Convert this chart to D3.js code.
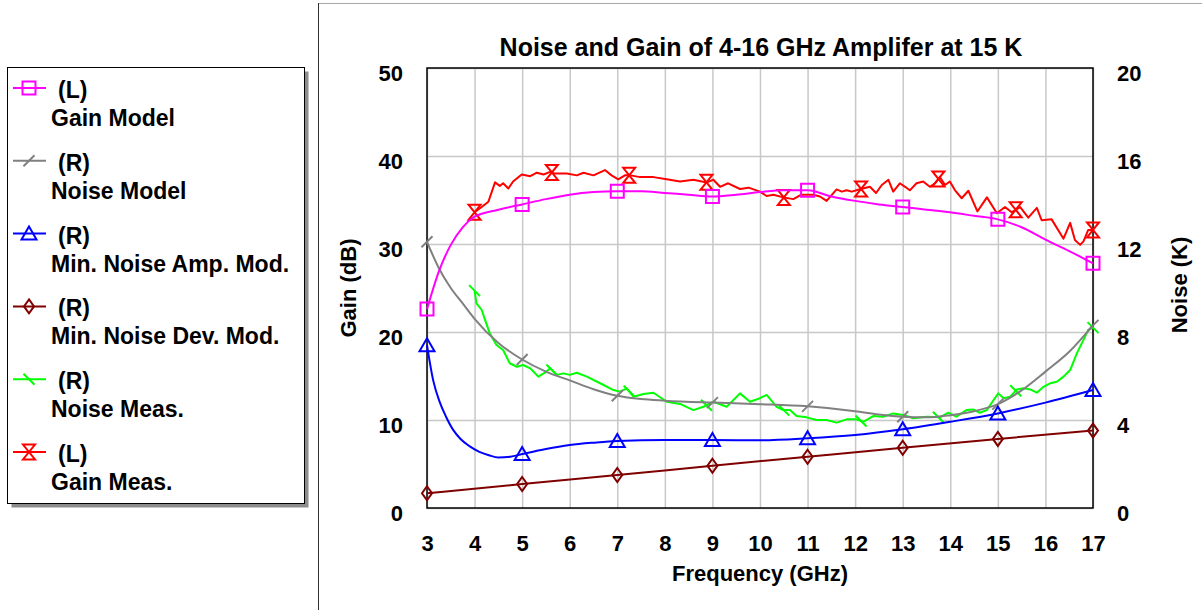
<!DOCTYPE html>
<html>
<head>
<meta charset="utf-8">
<script src="https://d3js.org/d3.v7.min.js"></script>
<style>
    body { margin: 0; background: #fff; }
    text { font-family: "Liberation Sans", Arial, sans-serif; font-weight: bold; fill: #000; }
</style>
</head>
<body>
<div id="chartContainer"></div>
<script>
// Axis ticks
const freqTicks = [3, 4, 5, 6, 7, 8, 9, 10, 11, 12, 13, 14, 15, 16, 17];
const gainTicks = [0, 10, 20, 30, 40, 50];
const noiseTicks = [0, 4, 8, 12, 16, 20];

// Model curves (left = dB, right = K)
const gainModelFreq = [3, 3.25, 3.5, 3.75, 4, 4.5, 5, 5.5, 6, 6.5, 7, 7.5, 8, 8.5, 9, 9.5, 10, 10.5, 11, 11.5, 12, 12.5, 13, 13.5, 14, 14.5, 15, 15.5, 16, 16.5, 17];
const gainModel = [22.6, 26.9, 29.9, 31.9, 33.1, 33.9, 34.5, 35.1, 35.6, 35.9, 36.0, 36.0, 35.8, 35.6, 35.4, 35.6, 35.9, 36.1, 36.1, 35.4, 34.9, 34.5, 34.2, 33.9, 33.6, 33.2, 32.8, 31.9, 30.5, 29.2, 27.8];

const noiseModelFreq = [3, 3.25, 3.5, 3.75, 4, 4.5, 5, 5.5, 6, 6.5, 7, 7.5, 8, 9, 10, 11, 12, 12.5, 13, 13.5, 14, 14.5, 15, 15.5, 16, 16.5, 17];
const noiseModel = [12.1, 10.9, 10.0, 9.3, 8.6, 7.5, 6.75, 6.2, 5.8, 5.4, 5.1, 4.95, 4.88, 4.79, 4.72, 4.62, 4.4, 4.25, 4.15, 4.12, 4.22, 4.4, 4.72, 5.35, 6.2, 7.1, 8.3];

const minAmpFreq = [3, 3.13, 3.27, 3.4, 3.55, 3.7, 3.9, 4.1, 4.3, 4.5, 4.75, 5, 5.5, 6, 6.5, 7, 8, 9, 10, 11, 12, 13, 14, 15, 16, 17];
const minAmp = [7.4, 5.8, 4.8, 4.15, 3.55, 3.15, 2.8, 2.55, 2.4, 2.3, 2.33, 2.45, 2.68, 2.86, 2.97, 3.05, 3.09, 3.09, 3.08, 3.17, 3.32, 3.58, 3.92, 4.3, 4.79, 5.36];

const minDevFreq = [3, 5, 7, 9, 11, 13, 15, 17];
const minDev = [0.67, 1.09, 1.5, 1.92, 2.33, 2.74, 3.14, 3.52];

// Measured curves
const gainMeasFreq = [4.0, 4.15, 4.29, 4.43, 4.53, 4.6, 4.71, 4.81, 4.99, 5.17, 5.31, 5.45, 5.59, 5.69, 5.94, 6.15, 6.29, 6.5, 6.74, 6.88, 7.02, 7.16, 7.28, 7.48, 7.76, 8.04, 8.32, 8.6, 8.88, 9.02, 9.16, 9.33, 9.58, 9.76, 10.0, 10.14, 10.28, 10.49, 10.7, 10.87, 11.12, 11.26, 11.4, 11.61, 11.72, 11.82, 11.93, 12.08, 12.31, 12.44, 12.56, 12.7, 12.8, 12.94, 13.05, 13.15, 13.29, 13.43, 13.57, 13.68, 13.78, 13.89, 13.99, 14.1, 14.24, 14.38, 14.57, 14.77, 14.98, 15.15, 15.29, 15.47, 15.64, 15.82, 15.92, 16.13, 16.38, 16.52, 16.62, 16.73, 16.8, 16.9, 17.0];
const gainMeas = [33.6, 34.2, 34.8, 37.0, 36.6, 36.9, 36.3, 37.1, 37.9, 37.7, 38.1, 37.9, 38.2, 38.0, 38.0, 37.8, 38.1, 37.8, 38.4, 37.8, 37.35, 37.8, 37.8, 37.6, 37.6, 37.35, 37.1, 37.3, 37.0, 37.3, 36.5, 36.9, 36.25, 36.4, 35.95, 35.45, 35.6, 35.3, 35.1, 35.6, 35.6, 35.4, 34.9, 36.2, 35.95, 36.1, 35.95, 36.2, 36.5, 35.8, 36.7, 37.3, 35.95, 36.9, 36.5, 36.1, 36.9, 37.1, 36.5, 36.9, 37.6, 36.7, 37.1, 36.1, 35.2, 36.05, 33.7, 35.3, 33.5, 34.2, 33.6, 34.2, 33.0, 34.1, 32.7, 32.8, 30.6, 32.4, 30.45, 29.9, 30.3, 31.6, 31.6];

const noiseMeasFreq = [4.0, 4.04, 4.15, 4.22, 4.32, 4.46, 4.6, 4.74, 4.89, 5.02, 5.17, 5.34, 5.48, 5.59, 5.73, 5.87, 6.0, 6.15, 6.36, 6.64, 6.92, 7.06, 7.2, 7.34, 7.55, 7.76, 8.04, 8.32, 8.6, 8.81, 9.02, 9.3, 9.58, 9.79, 10.0, 10.14, 10.35, 10.49, 10.63, 10.77, 10.98, 11.19, 11.4, 11.61, 11.82, 12.03, 12.17, 12.38, 12.59, 12.8, 13.01, 13.22, 13.5, 13.78, 13.96, 14.13, 14.34, 14.48, 14.62, 14.77, 14.91, 15.01, 15.12, 15.26, 15.4, 15.54, 15.68, 15.82, 15.96, 16.1, 16.24, 16.38, 16.52, 16.66, 16.8, 16.9, 17.0];
const noiseMeas = [9.88, 9.3, 9.0, 8.55, 7.94, 7.41, 7.18, 6.58, 6.42, 6.5, 6.35, 5.97, 6.15, 6.35, 6.05, 6.12, 6.05, 6.15, 5.97, 5.67, 5.36, 5.29, 5.44, 5.06, 5.18, 5.24, 4.83, 4.73, 4.45, 4.6, 4.83, 4.6, 5.21, 4.83, 4.99, 5.14, 4.6, 4.45, 4.45, 4.18, 4.12, 4.0, 4.0, 3.88, 4.03, 4.03, 3.92, 4.18, 4.15, 4.3, 4.23, 4.08, 4.15, 4.12, 4.33, 4.15, 4.45, 4.48, 4.33, 4.45, 4.91, 5.21, 4.99, 5.06, 5.39, 5.44, 5.39, 5.24, 5.51, 5.67, 5.74, 5.97, 6.27, 7.03, 7.64, 8.09, 8.2];

// Where the symbols sit
const modelMarkFreq = [3, 5, 7, 9, 11, 13, 15, 17];
const measMarkFreq = [4, 5.625, 7.25, 8.875, 10.5, 12.125, 13.75, 15.375, 17];

// Step 1. Draw the SVG.
const width = 1202;
const height = 610;
const svg = d3.select("#chartContainer")
    .append("svg")
    .attr("width", width)
    .attr("height", height);

const plotLeft = 427, plotRight = 1093, plotTop = 68, plotBottom = 508;

const x = d3.scaleLinear().domain([3, 17]).range([plotLeft, plotRight]);
const yL = d3.scaleLinear().domain([0, 50]).range([plotBottom, plotTop]);
const yR = d3.scaleLinear().domain([0, 20]).range([plotBottom, plotTop]);

// frame around the chart region
svg.append("line")
    .attr("x1", 318.5).attr("x2", width).attr("y1", 3.5).attr("y2", 3.5)
    .style("stroke", "#a8a8a8").style("stroke-width", 1);
svg.append("line")
    .attr("x1", 318.5).attr("x2", 318.5).attr("y1", 3).attr("y2", height)
    .style("stroke", "#303030").style("stroke-width", 1);

// Step 2. Grid lines
svg.append("g")
    .attr("class", "grid")
    .attr("transform", `translate(0,${plotBottom})`)
    .call(d3.axisBottom(x).tickValues(freqTicks).tickSize(-(plotBottom - plotTop)).tickFormat(""));
svg.append("g")
    .attr("class", "grid")
    .attr("transform", `translate(${plotLeft},0)`)
    .call(d3.axisLeft(yL).tickValues(gainTicks).tickSize(-(plotRight - plotLeft)).tickFormat(""));
svg.selectAll(".grid .domain").remove();
svg.selectAll(".grid line")
    .style("stroke", "#c8c8c8")
    .style("stroke-width", 1.5);

// Step 3. Axes (labels only, no tick marks)
const xAxis = svg.append("g")
    .attr("transform", `translate(0,${plotBottom})`)
    .call(d3.axisBottom(x).tickValues(freqTicks).tickSize(0).tickPadding(27));
const yAxisL = svg.append("g")
    .attr("transform", `translate(${plotLeft},0)`)
    .call(d3.axisLeft(yL).tickValues(gainTicks).tickSize(0).tickPadding(24));
const yAxisR = svg.append("g")
    .attr("transform", `translate(${plotRight},0)`)
    .call(d3.axisRight(yR).tickValues(noiseTicks).tickSize(0).tickPadding(24));
[xAxis, yAxisL, yAxisR].forEach((g) => {
    g.select(".domain").remove();
    g.selectAll("text")
        .style("font-size", "22px")
        .style("font-family", "'Liberation Sans', Arial, sans-serif")
        .style("font-weight", "bold")
        .attr("fill", "#000");
});
yAxisL.selectAll("text").attr("dy", "0.55em");
yAxisR.selectAll("text").attr("dy", "0.55em");

// plot border
svg.append("rect")
    .attr("x", plotLeft).attr("y", plotTop)
    .attr("width", plotRight - plotLeft).attr("height", plotBottom - plotTop)
    .style("fill", "none")
    .style("stroke", "#000")
    .style("stroke-width", 1.5);

// Titles
svg.append("text")
    .attr("x", 761).attr("y", 56)
    .attr("text-anchor", "middle")
    .style("font-size", "25px")
    .text("Noise and Gain of 4-16 GHz Amplifer at 15 K");
svg.append("text")
    .attr("x", 760).attr("y", 581)
    .attr("text-anchor", "middle")
    .style("font-size", "22px")
    .text("Frequency (GHz)");
svg.append("text")
    .attr("transform", "translate(356,288) rotate(-90)")
    .attr("text-anchor", "middle")
    .style("font-size", "22px")
    .text("Gain (dB)");
svg.append("text")
    .attr("transform", "translate(1187,285) rotate(-90)")
    .attr("text-anchor", "middle")
    .style("font-size", "22px")
    .text("Noise (K)");

// Step 4. Series
const markerPaths = {
    square: "M-6.5,-6.5H6.5V6.5H-6.5Z",
    hourglass: "M-6,-7.5H6L-6,7.5H6Z",
    triangle: "M0,-7L7.5,6H-7.5Z",
    diamond: "M0,-7L5,0L0,7L-5,0Z",
    slash: "M-5.5,5.5L5.5,-5.5",
    backslash: "M-5.5,-5.5L5.5,5.5"
};

const series = [
    { name: "Gain Model", side: "(L)", freq: gainModelFreq, vals: gainModel, y: yL, color: "#ff00ff", marker: "square", marks: modelMarkFreq, curve: d3.curveMonotoneX },
    { name: "Noise Model", side: "(R)", freq: noiseModelFreq, vals: noiseModel, y: yR, color: "#808080", marker: "slash", marks: modelMarkFreq, curve: d3.curveMonotoneX },
    { name: "Min. Noise Amp. Mod.", side: "(R)", freq: minAmpFreq, vals: minAmp, y: yR, color: "#0000ff", marker: "triangle", marks: modelMarkFreq, curve: d3.curveMonotoneX },
    { name: "Min. Noise Dev. Mod.", side: "(R)", freq: minDevFreq, vals: minDev, y: yR, color: "#800000", marker: "diamond", marks: modelMarkFreq, curve: d3.curveMonotoneX },
    { name: "Noise Meas.", side: "(R)", freq: noiseMeasFreq, vals: noiseMeas, y: yR, color: "#00ff00", marker: "backslash", marks: measMarkFreq, curve: d3.curveLinear },
    { name: "Gain Meas.", side: "(L)", freq: gainMeasFreq, vals: gainMeas, y: yL, color: "#ff0000", marker: "hourglass", marks: measMarkFreq, curve: d3.curveLinear }
];

// value of a series at frequency f (linear between points)
const valueAt = (s, f) => {
    const i = Math.min(Math.max(d3.bisectLeft(s.freq, f), 1), s.freq.length - 1);
    const f0 = s.freq[i - 1], f1 = s.freq[i];
    const t = (f - f0) / (f1 - f0);
    return s.vals[i - 1] + t * (s.vals[i] - s.vals[i - 1]);
};

const plot = svg.append("g");
// draw order: measured underneath models like the original
const drawOrder = [series[5], series[4], series[1], series[0], series[2], series[3]];
drawOrder.forEach((s) => {
    const line = d3.line()
        .x((d, i) => x(s.freq[i]))
        .y((d) => s.y(d))
        .curve(s.curve);
    plot.append("path")
        .datum(s.vals)
        .attr("d", line)
        .style("fill", "none")
        .style("stroke", s.color)
        .style("stroke-width", 2)
        .style("stroke-linejoin", "round");
    plot.selectAll(null)
        .data(s.marks)
        .enter()
        .append("path")
        .attr("transform", (f) => `translate(${x(f)},${s.y(valueAt(s, f))})`)
        .attr("d", markerPaths[s.marker])
        .style("fill", "none")
        .style("stroke", s.color)
        .style("stroke-width", 2);
});

// Step 5. Legend
const legend = svg.append("g");
legend.append("rect")
    .attr("x", 11.5).attr("y", 71.5)
    .attr("width", 297).attr("height", 436)
    .style("fill", "#8c8c8c");
legend.append("rect")
    .attr("x", 7.5).attr("y", 67.5)
    .attr("width", 297).attr("height", 436)
    .style("fill", "#fff")
    .style("stroke", "#000")
    .style("stroke-width", 1);

const entry = legend.selectAll(".entry")
    .data(series)
    .enter()
    .append("g")
    .attr("class", "entry")
    .attr("transform", (d, i) => `translate(0,${88 + i * 72.8})`);
entry.append("line")
    .attr("x1", 13).attr("x2", 46)
    .style("stroke", (d) => d.color)
    .style("stroke-width", 2);
entry.append("path")
    .attr("transform", "translate(29,0)")
    .attr("d", (d) => markerPaths[d.marker])
    .style("fill", "none")
    .style("stroke", (d) => d.color)
    .style("stroke-width", 2);
entry.append("text")
    .attr("x", 58).attr("y", 10)
    .style("font-size", "23px")
    .text((d) => d.side);
entry.append("text")
    .attr("x", 51).attr("y", 38)
    .style("font-size", "23px")
    .text((d) => d.name);
</script>
</body>
</html>
